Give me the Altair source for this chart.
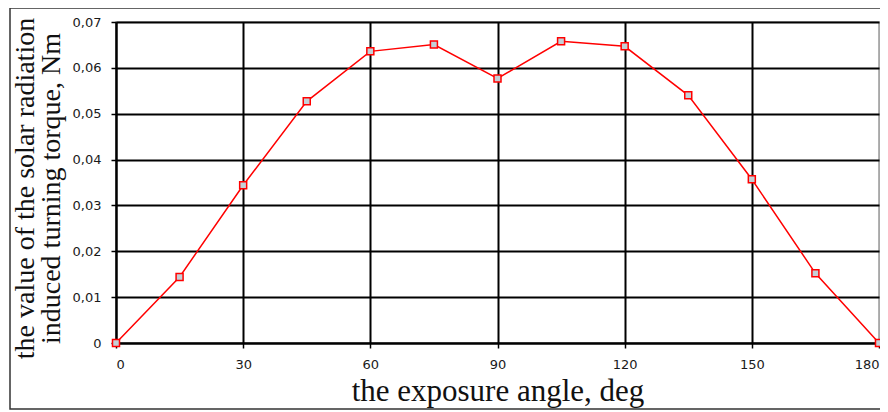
import altair as alt
import pandas as pd

angles = [0, 15, 30, 45, 60, 75, 90, 105, 120, 135, 150, 165, 180]
torque = [0, 0.0144, 0.0344, 0.0527, 0.0636, 0.0651, 0.0577, 0.0658, 0.0647,
          0.0540, 0.0357, 0.0152, 0]
x_ticks = [0, 30, 60, 90, 120, 150, 180]
y_ticks = [0, 0.01, 0.02, 0.03, 0.04, 0.05, 0.06, 0.07]

df = pd.DataFrame({"angle": angles, "torque": torque})

W, H = 763, 321

x_axis = alt.Axis(
    values=x_ticks,
    title="the exposure angle, deg",
    titleFont="Liberation Serif", titleFontSize=31, titleFontWeight="normal",
    titleColor="#111", titleBaseline="middle", titleY=48,
    labelFont="DejaVu Sans", labelFontSize=13, labelColor="#1a1a1a",
    labelPadding=10, tickSize=5, tickColor="black", tickWidth=1.5,
    domainColor="black", domainWidth=2,
    gridColor={"condition": {"test": "datum.value == 180", "value": "#a8a8a8"}, "value": "black"},
    gridWidth=2, gridOpacity=1,
)
y_axis = alt.Axis(
    values=y_ticks,
    labelExpr="datum.value == 0 ? '0' : replace(format(datum.value, '.2f'), '.', ',')",
    title=["the value of the solar radiation", "induced turning torque, Nm"],
    titleFont="Liberation Serif", titleFontSize=28, titleFontWeight="normal",
    titleColor="#111", titleAngle=-90, titleBaseline="middle", titleAlign="center",
    titleLineHeight=26, titleX=-91, titleY=166,
    labelFont="DejaVu Sans", labelFontSize=13, labelColor="#1a1a1a",
    labelPadding=10, tickSize=5, tickColor="black", tickWidth=1.5,
    domainColor="black", domainWidth=2,
    gridColor="black", gridWidth=2, gridOpacity=1,
)

base = alt.Chart(df)
line = base.mark_line(color="#ff0000", strokeWidth=1.5).encode(
    x=alt.X("angle:Q", scale=alt.Scale(domain=[0, 180], nice=False), axis=x_axis),
    y=alt.Y("torque:Q", scale=alt.Scale(domain=[0, 0.07], nice=False), axis=y_axis),
)
pts = base.mark_point(shape="square", size=49, filled=True, fill="#c4d0d6",
                      stroke="#ff0000", strokeWidth=1.5, opacity=1).encode(
    x=alt.X("angle:Q", axis=x_axis), y=alt.Y("torque:Q", axis=y_axis)
)

frame = alt.Chart(pd.DataFrame({"a": [0]})).mark_rect(
    fill=None, stroke="#333", strokeWidth=1.5
).encode(
    x=alt.value(-106), x2=alt.value(775), y=alt.value(-14), y2=alt.value(387)
)

chart = alt.layer(frame, line, pts).properties(
    width=W, height=H,
    background="white",
    autosize=alt.AutoSizeParams(type="none"),
    padding={"left": 108, "top": 14, "right": 1, "bottom": 69},
).configure_view(stroke="#a8a8a8", strokeWidth=1.5)

chart.save("out.html", embed_options={"renderer": "svg", "actions": False})
